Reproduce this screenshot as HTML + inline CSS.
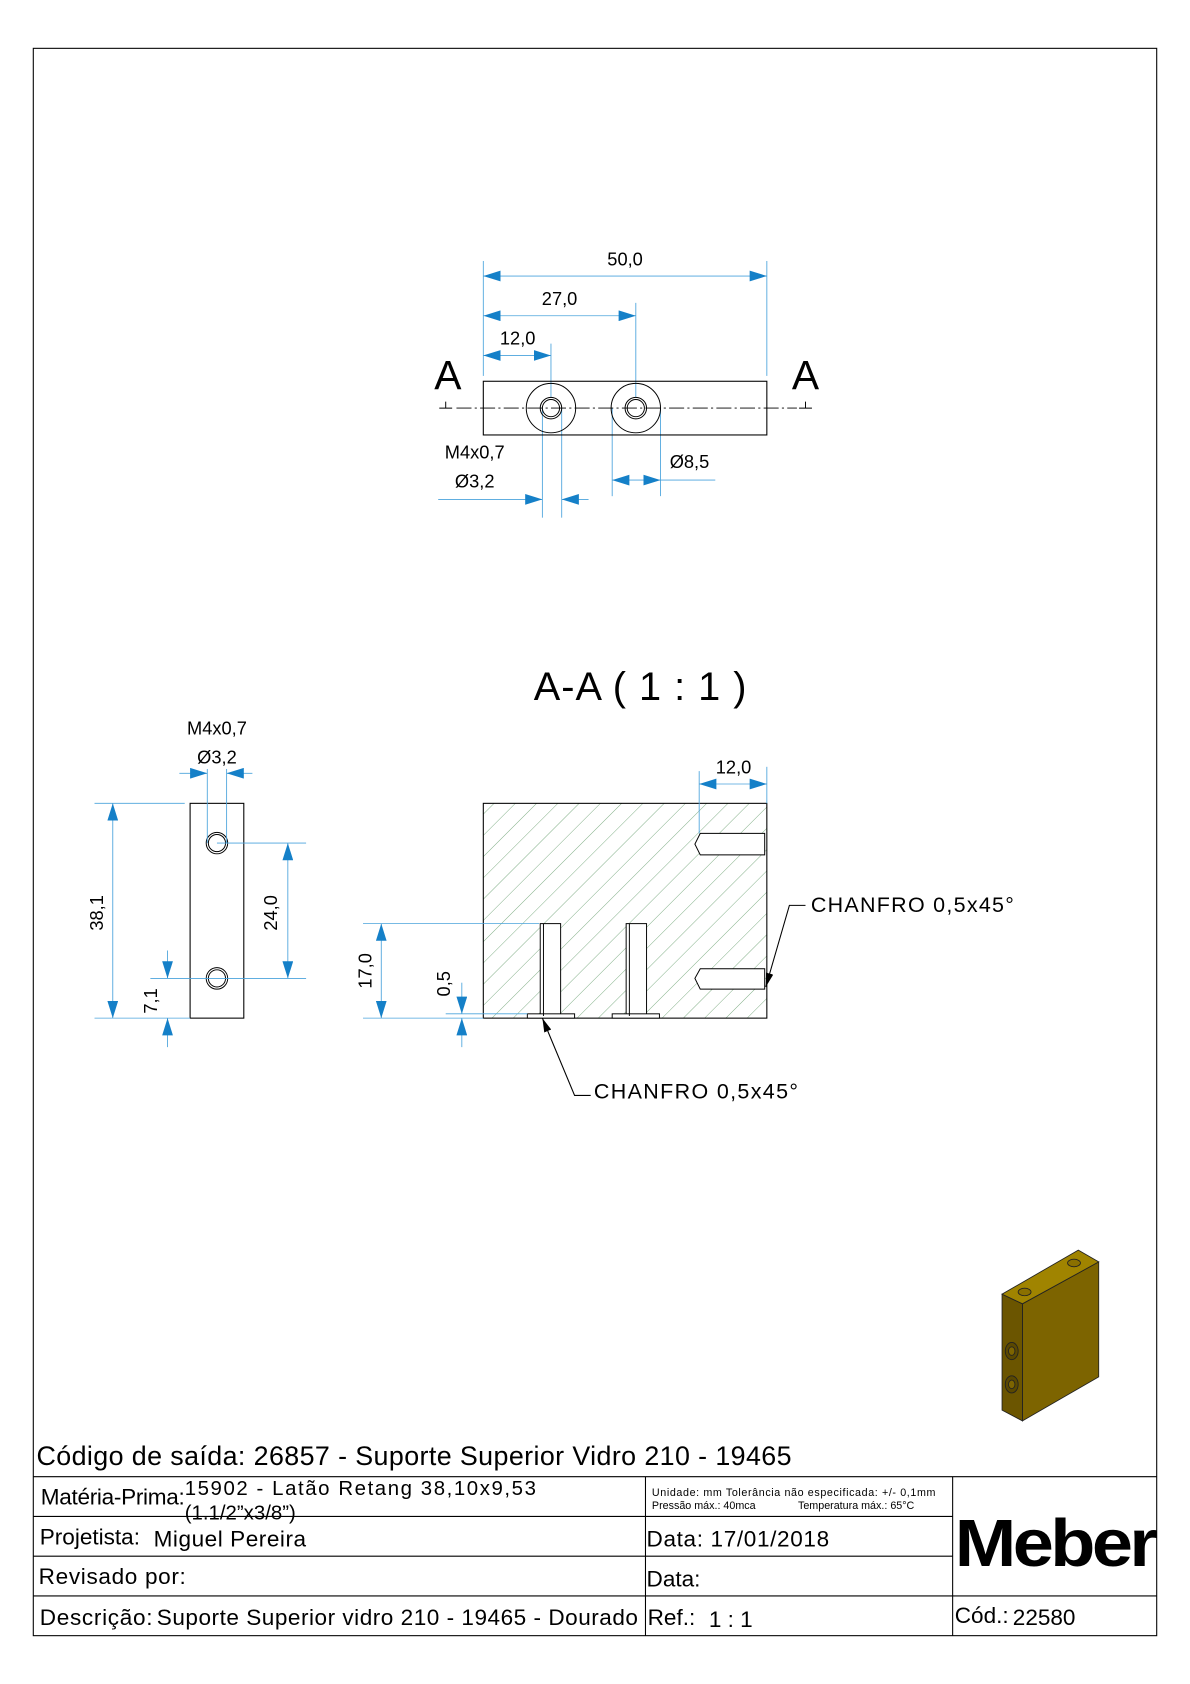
<!DOCTYPE html>
<html><head><meta charset="utf-8"><style>
html,body{margin:0;padding:0;background:#fff}
svg{display:block}
text{font-family:"Liberation Sans",sans-serif;fill:#000}
</style></head><body>
<svg width="1190" height="1684" viewBox="0 0 1108 1568" preserveAspectRatio="none" xmlns="http://www.w3.org/2000/svg">
<defs>
<pattern id="h" patternUnits="userSpaceOnUse" width="14" height="14" patternTransform="rotate(45)">
<line x1="0" y1="0" x2="0" y2="14" stroke="#7fae86" stroke-width="0.9"/>
</pattern>
<marker id="a" viewBox="0 0 10 10" refX="10" refY="5" markerWidth="16" markerHeight="10" markerUnits="userSpaceOnUse" orient="auto-start-reverse" preserveAspectRatio="none"><path d="M0,0L10,5L0,10z" fill="#1580c8"/></marker>
<marker id="k" viewBox="0 0 10 10" refX="10" refY="5" markerWidth="13" markerHeight="7" markerUnits="userSpaceOnUse" orient="auto" preserveAspectRatio="none"><path d="M0,0L10,5L0,10z" fill="#000"/></marker>
</defs>
<rect x="31" y="45" width="1046" height="1478" fill="none" stroke="#000" stroke-width="1"/>

<!-- TOP VIEW -->
<g stroke="#4aa3dc" stroke-width="0.8" fill="none">
<line x1="450" y1="243" x2="450" y2="350"/><line x1="714" y1="243" x2="714" y2="350"/>
<line x1="592" y1="282" x2="592" y2="370"/><line x1="513" y1="320" x2="513" y2="370"/>
<line x1="450" y1="257" x2="714" y2="257" marker-start="url(#a)" marker-end="url(#a)"/>
<line x1="450" y1="294" x2="592" y2="294" marker-start="url(#a)" marker-end="url(#a)"/>
<line x1="450" y1="331" x2="513" y2="331" marker-start="url(#a)" marker-end="url(#a)"/>
<line x1="505" y1="380" x2="505" y2="482"/><line x1="523" y1="380" x2="523" y2="482"/>
<line x1="408" y1="465" x2="505" y2="465" marker-end="url(#a)"/>
<line x1="548" y1="465" x2="523" y2="465" marker-end="url(#a)"/>
<line x1="570" y1="380" x2="570" y2="462"/><line x1="615" y1="380" x2="615" y2="462"/>
<line x1="570" y1="447" x2="615" y2="447" marker-start="url(#a)" marker-end="url(#a)"/>
<line x1="615" y1="447" x2="666" y2="447"/>
</g>
<rect x="450" y="355" width="264" height="50" fill="none" stroke="#000" stroke-width="1"/>
<line x1="425" y1="380" x2="742" y2="380" stroke="#000" stroke-width="0.8" stroke-dasharray="14,3,2,3"/>
<g fill="none" stroke="#000" stroke-width="0.9">
<circle cx="513" cy="380" r="23"/><circle cx="513" cy="380" r="10"/><circle cx="513" cy="380" r="8"/>
<circle cx="592" cy="380" r="23"/><circle cx="592" cy="380" r="10"/><circle cx="592" cy="380" r="8"/>
<path d="M409,380h12M415,374v6M744,380h12M750,374v6"/>
</g>
<text x="582" y="247" font-size="17" text-anchor="middle">50,0</text>
<text x="521" y="284" font-size="17" text-anchor="middle">27,0</text>
<text x="482" y="321" font-size="17" text-anchor="middle">12,0</text>
<text x="417" y="362" font-size="38" text-anchor="middle">A</text>
<text x="750" y="362" font-size="38" text-anchor="middle">A</text>
<text x="442" y="427" font-size="17" text-anchor="middle">M4x0,7</text>
<text x="442" y="454" font-size="17" text-anchor="middle">Ø3,2</text>
<text x="642" y="436" font-size="17" text-anchor="middle">Ø8,5</text>

<!-- SECTION -->
<text x="497" y="652" font-size="37" textLength="198">A-A ( 1 : 1 )</text>
<rect x="450" y="748" width="264" height="200" fill="url(#h)" stroke="#000" stroke-width="1"/>
<g fill="#fff" stroke="#000" stroke-width="0.9">
<path d="M652,776H712V796H652L647,786Z"/><path d="M652,902H712V921H652L647,911Z"/>
<rect x="503" y="860" width="19" height="86"/><rect x="583" y="860" width="19" height="86"/>
<rect x="491" y="944" width="44" height="4"/><rect x="570" y="944" width="44" height="4"/>
<line x1="506" y1="860" x2="506" y2="946"/><line x1="586" y1="860" x2="586" y2="946"/>
</g>
<g stroke="#4aa3dc" stroke-width="0.8" fill="none">
<line x1="651" y1="718" x2="651" y2="776"/><line x1="714" y1="714" x2="714" y2="748"/>
<line x1="651" y1="730" x2="714" y2="730" marker-start="url(#a)" marker-end="url(#a)"/>
<line x1="338" y1="860" x2="502" y2="860"/><line x1="338" y1="948" x2="450" y2="948"/>
<line x1="355" y1="860" x2="355" y2="948" marker-start="url(#a)" marker-end="url(#a)"/>
<line x1="415" y1="944" x2="491" y2="944"/>
<line x1="430" y1="915" x2="430" y2="944" marker-end="url(#a)"/>
<line x1="430" y1="975" x2="430" y2="948" marker-end="url(#a)"/>
</g>
<text x="683" y="720" font-size="17" text-anchor="middle">12,0</text>
<text transform="translate(346,904) rotate(-90)" font-size="17" text-anchor="middle">17,0</text>
<text transform="translate(419,916) rotate(-90)" font-size="17" text-anchor="middle">0,5</text>
<g stroke="#000" stroke-width="1" fill="none">
<path d="M750,843H735L713,919" marker-end="url(#k)"/>
<path d="M550,1020H535L505,948" marker-end="url(#k)"/>
</g>
<text x="755" y="849" font-size="20" textLength="189">CHANFRO 0,5x45°</text>
<text x="553" y="1023" font-size="20" textLength="190">CHANFRO 0,5x45°</text>

<!-- SIDE VIEW -->
<rect x="177" y="748" width="50" height="200" fill="none" stroke="#000" stroke-width="1"/>
<g fill="none" stroke="#000" stroke-width="0.9">
<circle cx="202" cy="785" r="10"/><circle cx="202" cy="785" r="8"/>
<circle cx="202" cy="911" r="10"/><circle cx="202" cy="911" r="8"/>
</g>
<g stroke="#4aa3dc" stroke-width="0.8" fill="none">
<line x1="88" y1="748" x2="172" y2="748"/><line x1="88" y1="948" x2="177" y2="948"/>
<line x1="105" y1="748" x2="105" y2="948" marker-start="url(#a)" marker-end="url(#a)"/>
<line x1="202" y1="785" x2="285" y2="785"/><line x1="140" y1="911" x2="285" y2="911"/>
<line x1="268" y1="785" x2="268" y2="911" marker-start="url(#a)" marker-end="url(#a)"/>
<line x1="156" y1="885" x2="156" y2="911" marker-end="url(#a)"/>
<line x1="156" y1="975" x2="156" y2="948" marker-end="url(#a)"/>
<line x1="193" y1="716" x2="193" y2="785"/><line x1="211" y1="716" x2="211" y2="785"/>
<line x1="167" y1="720" x2="193" y2="720" marker-end="url(#a)"/>
<line x1="235" y1="720" x2="211" y2="720" marker-end="url(#a)"/>
</g>
<text x="202" y="684" font-size="17" text-anchor="middle">M4x0,7</text>
<text x="202" y="711" font-size="17" text-anchor="middle">Ø3,2</text>
<text transform="translate(96,850) rotate(-90)" font-size="17" text-anchor="middle">38,1</text>
<text transform="translate(258,850) rotate(-90)" font-size="17" text-anchor="middle">24,0</text>
<text transform="translate(146,932) rotate(-90)" font-size="17" text-anchor="middle">7,1</text>

<!-- 3D -->
<g stroke="#222" stroke-width="0.8">
<polygon points="952,1214 1023,1175 1023,1282 952,1323" fill="#7d6400"/>
<polygon points="933,1205 952,1214 952,1323 933,1313" fill="#6b5500"/>
<polygon points="933,1205 1004,1164 1023,1175 952,1214" fill="#a08400"/>
<ellipse cx="954" cy="1203" rx="6" ry="3.5" fill="#8a7000"/>
<ellipse cx="1000" cy="1176" rx="6" ry="3.5" fill="#8a7000"/>
<ellipse cx="942" cy="1258" rx="6" ry="8" fill="#5a4800"/><ellipse cx="942" cy="1258" rx="3" ry="4" fill="#7d6400"/>
<ellipse cx="942" cy="1289" rx="6" ry="8" fill="#5a4800"/><ellipse cx="942" cy="1289" rx="3" ry="4" fill="#7d6400"/>
</g>

<!-- TITLE BLOCK -->
<text x="34" y="1364" font-size="25" textLength="703">Código de saída: 26857 - Suporte Superior Vidro 210 - 19465</text>
<g stroke="#000" stroke-width="1" fill="none">
<line x1="31" y1="1375" x2="1077" y2="1375"/>
<line x1="31" y1="1412" x2="887" y2="1412"/>
<line x1="31" y1="1449" x2="887" y2="1449"/>
<line x1="31" y1="1486" x2="1077" y2="1486"/>
<line x1="601" y1="1375" x2="601" y2="1523"/>
<line x1="887" y1="1375" x2="887" y2="1523"/>
</g>
<text x="38" y="1401" font-size="21" textLength="134">Matéria-Prima:</text>
<text x="172" y="1392" font-size="19" textLength="327">15902 - Latão Retang 38,10x9,53</text>
<text x="172" y="1415" font-size="19">(1.1/2”x3/8”)</text>
<text x="607" y="1393" font-size="10" textLength="264">Unidade: mm Tolerância não especificada: +/- 0,1mm</text>
<text x="607" y="1405" font-size="10">Pressão máx.: 40mca</text>
<text x="743" y="1405" font-size="10">Temperatura máx.: 65°C</text>
<text x="37" y="1438" font-size="21">Projetista:</text>
<text x="143" y="1440" font-size="21" textLength="142">Miguel Pereira</text>
<text x="602" y="1440" font-size="21" textLength="170">Data: 17/01/2018</text>
<text x="36" y="1475" font-size="21" textLength="137">Revisado por:</text>
<text x="602" y="1477" font-size="21">Data:</text>
<text x="37" y="1513" font-size="21" textLength="105">Descrição:</text>
<text x="146" y="1513" font-size="21" textLength="448">Suporte Superior vidro 210 - 19465 - Dourado</text>
<text x="603" y="1513" font-size="21">Ref.:</text>
<text x="660" y="1515" font-size="21">1 : 1</text>
<text x="889" y="1511" font-size="21">Cód.:</text>
<text x="943" y="1513" font-size="21">22580</text>
<text x="889" y="1458" font-size="62" font-weight="bold" textLength="186" lengthAdjust="spacingAndGlyphs" letter-spacing="-3">Meber</text>
</svg>
</body></html>
